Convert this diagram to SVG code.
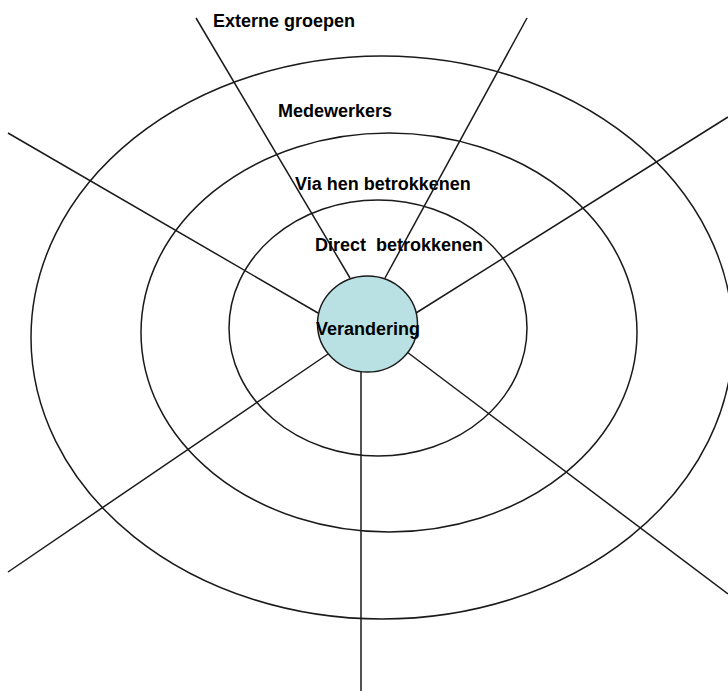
<svg xmlns="http://www.w3.org/2000/svg" width="728" height="691" viewBox="0 0 728 691">
<style>
.ring{fill:none;stroke:#1a1a1a;stroke-width:1.5}
.spoke{stroke:#1a1a1a;stroke-width:1.5;fill:none}
.lbl{font-family:"Liberation Sans",Arial,sans-serif;font-weight:bold;font-size:18px;fill:#000;white-space:pre}
.core{fill:#b9e1e3;stroke:#1a1a1a;stroke-width:1.5}
</style>
<rect width="728" height="691" fill="#fff"/>
<g id="ring-externe">
<ellipse class="ring" cx="382" cy="337.5" rx="351" ry="281.5"/>
<text class="lbl" x="213" y="27">Externe groepen</text>
</g>
<g id="ring-medewerkers">
<ellipse class="ring" cx="389" cy="332.5" rx="248" ry="199.5"/>
<text class="lbl" x="278" y="117">Medewerkers</text>
</g>
<g id="ring-via">
<ellipse class="ring" cx="378" cy="328" rx="149" ry="128"/>
<text class="lbl" x="295" y="190">Via hen betrokkenen</text>
</g>
<g id="connectors">
<line class="spoke" x1="196" y1="18" x2="350" y2="278"/>
<line class="spoke" x1="527" y1="18" x2="385" y2="278"/>
<line class="spoke" x1="728" y1="117" x2="416" y2="313"/>
<line class="spoke" x1="728" y1="594" x2="407" y2="352"/>
<line class="spoke" x1="361" y1="691" x2="361" y2="371"/>
<line class="spoke" x1="8" y1="572" x2="328" y2="354"/>
<line class="spoke" x1="8" y1="133" x2="318" y2="313"/>
</g>
<g id="ring-direct">
<text class="lbl" x="315" y="251">Direct  betrokkenen</text>
</g>
<g id="verandering">
<ellipse class="core" cx="367.5" cy="324" rx="50" ry="48"/>
<text class="lbl" x="316" y="335">Verandering</text>
</g>
</svg>
